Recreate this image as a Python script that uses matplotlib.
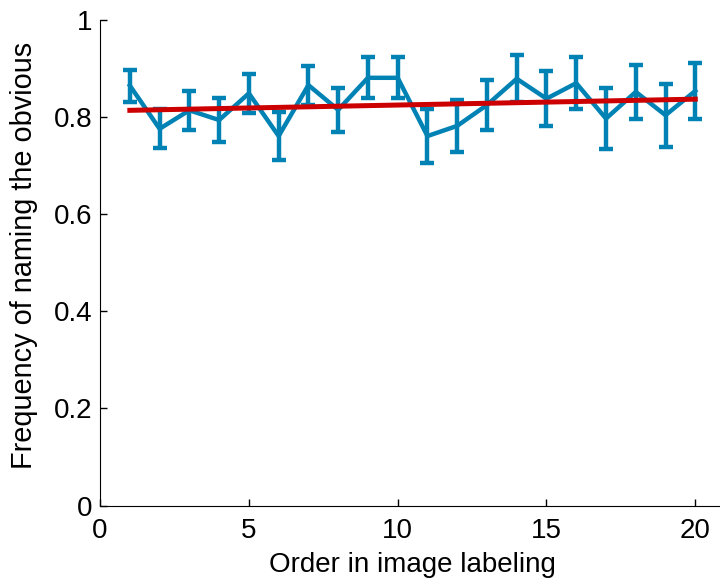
import numpy as np
import matplotlib.pyplot as plt

plt.rcParams['font.family'] = ['Liberation Sans', 'DejaVu Sans']
plt.rcParams['font.size'] = 20

# mean frequency per position, with standard error
order = np.arange(1, 21)
freq = [0.865, 0.776, 0.814, 0.794, 0.849, 0.761, 0.866, 0.815, 0.881, 0.881,
        0.761, 0.782, 0.825, 0.879, 0.838, 0.870, 0.797, 0.852, 0.804, 0.854]
sem = [0.033, 0.040, 0.040, 0.045, 0.040, 0.050, 0.040, 0.045, 0.042, 0.042,
       0.055, 0.054, 0.052, 0.048, 0.057, 0.053, 0.063, 0.056, 0.065, 0.057]

# linear fit over positions
fit_x = [1, 20]
fit_y = [0.814, 0.837]

fig = plt.figure(figsize=(7.2, 5.84), dpi=100)
ax = fig.add_axes([0.139, 0.1344, 0.868, 0.8313])

ax.errorbar(order, freq, yerr=sem, color='#0083b4', lw=3.2, elinewidth=3.2,
            capsize=5, capthick=3.2, zorder=2)
ax.plot(fit_x, fit_y, color='#cc0000', lw=3.6, zorder=3)

ax.set_xlim(0, 21)
ax.set_ylim(0, 1)
ax.set_xticks([0, 5, 10, 15, 20])
ax.set_yticks([0, 0.2, 0.4, 0.6, 0.8, 1])
ax.set_yticklabels(['0', '0.2', '0.4', '0.6', '0.8', '1'])
ax.tick_params(direction='in', length=5, width=1)
ax.tick_params(axis='x', pad=9)
ax.tick_params(axis='y', pad=5.5)
ax.spines['top'].set_visible(False)
ax.spines['right'].set_visible(False)
ax.set_xlabel('Order in image labeling', labelpad=6)
ax.set_ylabel('Frequency of naming the obvious', fontsize=20.8)
ax.yaxis.set_label_coords(-0.1, 0.515)

fig.savefig('out.png', dpi=100)
